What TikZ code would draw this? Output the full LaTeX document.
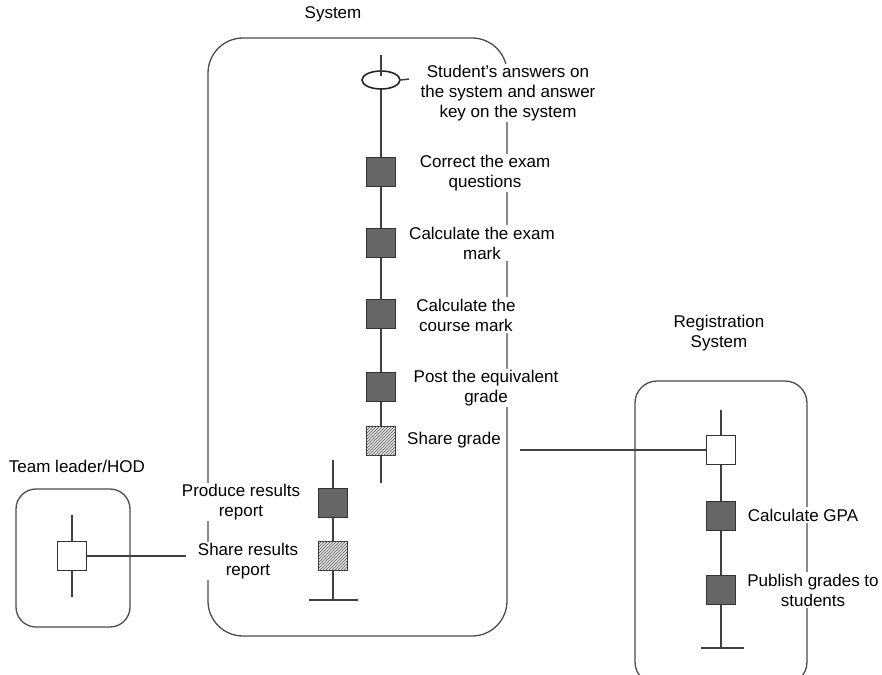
\documentclass[tikz,border=0pt]{standalone}
\usepackage{fontspec}
\setmainfont{Liberation Sans}
\usetikzlibrary{shapes.geometric,patterns}
\begin{document}
\begin{tikzpicture}[x=1pt,y=-1pt,
  lane/.style={draw=black!70,line width=1.3pt},
  flow/.style={draw=black!75,line width=1.2pt},
  act/.style={draw=black!80,line width=1pt,fill=black!60,minimum size=29pt,inner sep=0pt},
  wact/.style={act,fill=white},
  hact/.style={act,fill=gray!20,postaction={pattern=north east lines,pattern color=black!65}},
  lbl/.style={font=\fontsize{17}{20}\selectfont,align=center,fill=white,inner sep=1.5pt},
  ttl/.style={font=\fontsize{17}{20.5}\selectfont,align=center,inner sep=0pt}]
\useasboundingbox (0,0) rectangle (882,674);
\fill[white] (0,0) rectangle (882,674);
% swimlane boxes
\draw[lane,rounded corners=35pt] (208,38) rectangle (507,636);
\draw[lane,rounded corners=20pt] (16,489) rectangle (130,627);
\draw[lane,rounded corners=22pt] (635,381) rectangle (807,684);
\node[ttl] (tsys) at (333,14) {System};
\node[ttl] (ttl) at (77,466) {Team leader/HOD};
\node[ttl] (treg) at (719,333) {Registration\\System};
% System lane
\coordinate (mtop) at (381,55);
\coordinate (mbot) at (381,483);
\node[draw=black!85,line width=1.6pt,ellipse,minimum width=38pt,minimum height=18pt,inner sep=0pt,fill=white] (ell) at (381,80) {};
\node[act] (s1) at (381,172) {};
\node[act] (s2) at (381,243) {};
\node[act] (s3) at (381,314) {};
\node[act] (s4) at (381,387) {};
\node[hact] (s5) at (381,441) {};
\coordinate (tail) at (409,79);
\draw[flow] (mtop) -- ([yshift=-6pt]ell.north);
\draw[flow] (ell.south) -- (s1) -- (s2) -- (s3) -- (s4) -- (s5) -- (mbot);
\draw[flow,line width=1.5pt] (ell.east) -- (tail);
% second flow in System
\coordinate (rtop) at (333,460);
\coordinate (rbot) at (333,600);
\coordinate (rbl) at (309,600);
\coordinate (rbr) at (358,600);
\node[act] (r1) at (333,503) {};
\node[hact] (r2) at (333,556) {};
\draw[flow] (rtop) -- (r1) -- (r2) -- (rbot);
\draw[flow] (rbl) -- (rbr);
% Team leader lane
\coordinate (ttop) at (72,515);
\coordinate (tbot) at (72,597);
\node[wact] (t1) at (72,556) {};
\coordinate (tend) at (186,556);
\draw[flow] (ttop) -- (t1) -- (tbot);
\draw[flow] (t1) -- (tend);
% Registration lane
\coordinate (gtop) at (721,410);
\coordinate (gbot) at (721,648);
\coordinate (gbl) at (701,648);
\coordinate (gbr) at (744,648);
\node[wact] (g1) at (721,450) {};
\node[act] (g2) at (721,516) {};
\node[act] (g3) at (721,590) {};
\coordinate (gend) at (520,450);
\draw[flow] (gtop) -- (g1) -- (g2) -- (g3) -- (gbot);
\draw[flow] (gbl) -- (gbr);
\draw[flow] (g1) -- (gend);
% labels
\node[lbl] (l0) at (508,93) {Student's answers on\\the system and answer\\key on the system};
\node[lbl] (l1) at (485,173) {Correct the exam\\questions};
\node[lbl] (l2) at (482,243) {Calculate the exam\\mark};
\node[lbl] (l3) at (466,315) {Calculate the\\course mark};
\node[lbl] (l4) at (486,388) {Post the equivalent\\grade};
\node[lbl] (l5) at (454,440) {Share grade};
\node[lbl] (l6) at (241,502) {Produce results\\report};
\node[lbl] (l7) at (248,561) {Share results\\report};
\node[lbl] (l8) at (803,515) {Calculate GPA};
\node[lbl] (l9) at (813,590) {Publish grades to\\students};
\end{tikzpicture}
\end{document}
